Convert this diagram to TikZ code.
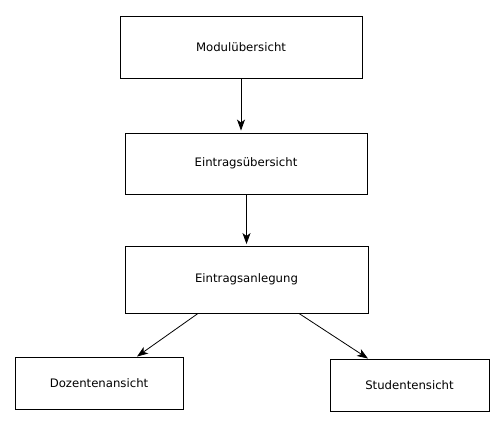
\documentclass[tikz,border=0pt]{standalone}
\usepackage{fontspec}
\setmainfont{DejaVu Sans}
\usetikzlibrary{arrows.meta}
\begin{document}
\begin{tikzpicture}[x=1pt,y=-1pt,
  box/.style={draw=black,line width=0.9pt,fill=white,inner sep=0pt,
    font=\fontsize{11.7}{13}\selectfont},
  conn/.style={line width=0.8pt,-{Stealth[length=11pt,width=8pt,inset=3pt]}}]
\useasboundingbox[fill=white] (0,0) rectangle (503,426);
\node[box,minimum width=242pt,minimum height=62pt] (A) at (241,47) {Modulübersicht};
\node[box,minimum width=242pt,minimum height=61pt] (B) at (246,163.5) {Eintragsübersicht};
\node[box,minimum width=243pt,minimum height=67pt] (C) at (246.5,279.5) {Eintragsanlegung};
\node[box,minimum width=168pt,minimum height=52pt] (D) at (99,383) {Dozentenansicht};
\node[box,minimum width=159pt,minimum height=52pt] (E) at (409.5,385) {Studentensicht};
\draw[conn,shorten >=2pt] (A.south) -- (A.south |- B.north);
\draw[conn,shorten >=1.5pt] (C.north |- B.south) -- (C.north);
\draw[conn] ([xshift=-48.5pt]C.south) -- ([xshift=38pt]D.north);
\draw[conn] ([xshift=52.5pt]C.south) -- ([xshift=-41.5pt]E.north);
\end{tikzpicture}
\end{document}
